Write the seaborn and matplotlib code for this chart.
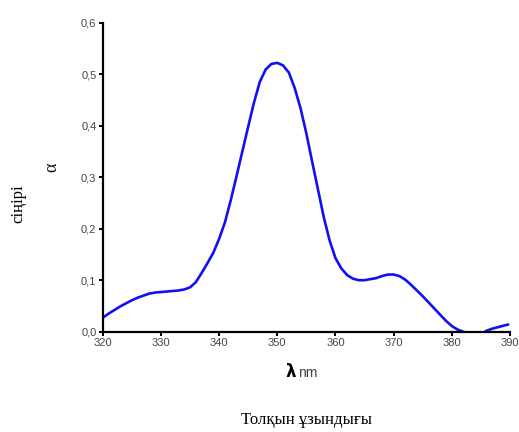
import matplotlib
matplotlib.use("Agg")
import matplotlib.pyplot as plt
import seaborn as sns
import pandas as pd

wavelength = [320, 321, 322, 323, 324, 325, 326, 327, 328, 329, 330, 331, 332, 333, 334,
              335, 336, 337, 338, 339, 340, 341, 342, 343, 344, 345, 346, 347, 348, 349,
              350, 351, 352, 353, 354, 355, 356, 357, 358, 359, 360, 361, 362, 363, 364,
              365, 366, 367, 368, 369, 370, 371, 372, 373, 374, 375, 376, 377, 378, 379,
              380, 381, 382, 383, 384, 385, 386, 387, 388, 389, 389.7]
absorbance = [0.027, 0.035, 0.042, 0.049, 0.055, 0.061, 0.066, 0.070, 0.074, 0.076, 0.077,
              0.078, 0.079, 0.080, 0.082, 0.086, 0.096, 0.114, 0.133, 0.153, 0.180, 0.212,
              0.255, 0.302, 0.350, 0.398, 0.445, 0.485, 0.509, 0.520, 0.522, 0.517, 0.503,
              0.473, 0.434, 0.385, 0.330, 0.276, 0.222, 0.177, 0.143, 0.123, 0.110, 0.103,
              0.100, 0.100, 0.102, 0.104, 0.108, 0.111, 0.111, 0.108, 0.101, 0.091, 0.080,
              0.069, 0.057, 0.045, 0.033, 0.021, 0.011, 0.004, 0.000, -0.006, -0.009,
              -0.005, 0.002, 0.006, 0.009, 0.012, 0.014]
x_ticks = [320, 330, 340, 350, 360, 370, 380, 390]
y_ticks = [0.0, 0.1, 0.2, 0.3, 0.4, 0.5, 0.6]
y_tick_labels = ["0,0", "0,1", "0,2", "0,3", "0,4", "0,5", "0,6"]

sns.set_style("ticks")
plt.rcParams['font.family'] = ['Liberation Sans', 'DejaVu Sans']

W, H = 519, 432
fig = plt.figure(figsize=(W / 100, H / 100), dpi=100)
ax = fig.add_axes([102.7 / W, 1 - 331.7 / H, (510 - 102.7) / W, (331.7 - 22.7) / H])

df = pd.DataFrame({"wavelength": wavelength, "absorbance": absorbance})
sns.lineplot(data=df, x="wavelength", y="absorbance", ax=ax, color="#1010f5",
             linewidth=1.9, sort=False)

ax.set_xlim(320, 390)
ax.set_ylim(0, 0.6)
ax.set_xticks(x_ticks)
ax.set_xticklabels([str(t) for t in x_ticks])
ax.set_yticks(y_ticks)
ax.set_yticklabels(y_tick_labels)
ax.set_xlabel("")
ax.set_ylabel("")
for s in ["top", "right"]:
    ax.spines[s].set_visible(False)
for s in ["left", "bottom"]:
    ax.spines[s].set_linewidth(1.6)
    ax.spines[s].set_color("black")
ax.tick_params(axis="both", direction="out", length=3, width=1.4, color="black",
               labelsize=8, labelcolor="#444444", pad=1.5)

# axis labels
fig.text(296 / W, 1 - 372 / H, "λ", fontsize=12, fontweight="bold", ha="right", va="center",
         color="black", family=["DejaVu Sans"])
fig.text(298 / W, 1 - 373 / H, "nm", fontsize=10, ha="left", va="center", color="#444444")
fig.text(52 / W, 1 - 167 / H, "α", fontsize=13, rotation=90, ha="center", va="center",
         color="#111111", family=["Liberation Serif", "DejaVu Serif"])
fig.text(18 / W, 1 - 204 / H, "сіңірі", fontsize=12, rotation=90, ha="center", va="center",
         color="black", family=["Liberation Serif", "DejaVu Serif"])
fig.text(307 / W, 1 - 420 / H, "Толқын ұзындығы", fontsize=12, ha="center", va="center",
         color="black", family=["Liberation Serif", "DejaVu Serif"])

fig.savefig("out.png", dpi=100)
